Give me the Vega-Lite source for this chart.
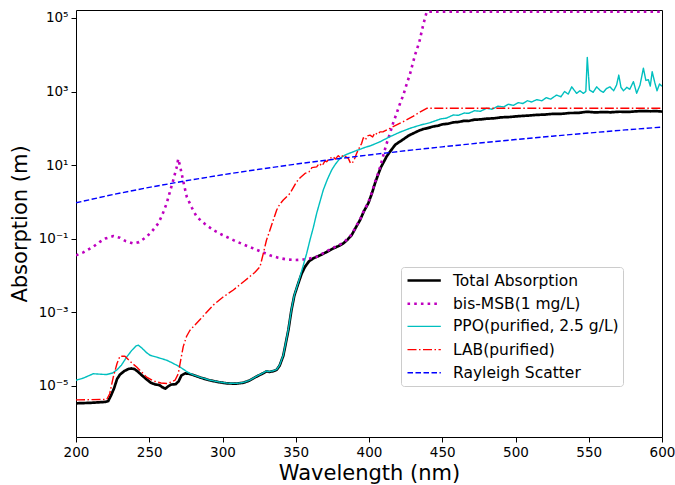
{
  "$schema": "https://vega.github.io/schema/vega-lite/v6.json",
  "width": 586,
  "height": 427,
  "autosize": {"type": "none"},
  "padding": {"left": 76, "top": 10, "right": 13, "bottom": 48},
  "background": "white",
  "config": {
    "font": "DejaVu Sans",
    "view": {"stroke": "#000000", "strokeWidth": 1},
    "axis": {
      "grid": false, "domain": false, "tickColor": "#000000", "tickSize": 5, "tickWidth": 1,
      "labelColor": "#000000", "labelFontSize": 13.5, "labelFont": "DejaVu Sans", "labelFlush": false,
      "titleFontSize": 21, "titleFontWeight": "normal", "titleColor": "#000000", "titleFont": "DejaVu Sans"
    },
    "legend": {
      "orient": "none", "legendX": 325, "legendY": 257, "title": null,
      "labelFontSize": 15.5, "labelFont": "DejaVu Sans", "labelColor": "#000000", "labelLimit": 400,
      "symbolType": "M-0.875,0H3.29", "symbolSize": 256, "labelOffset": 29,
      "padding": 4, "rowPadding": 5.2, "fillColor": "#ffffff", "strokeColor": "#cccccc", "cornerRadius": 3
    }
  },
  "data": {"values": [
    {"series":"Total Absorption","wl":200,"abs":3.3e-6},
    {"series":"Total Absorption","wl":210,"abs":3.4e-6},
    {"series":"Total Absorption","wl":220,"abs":3.6e-6},
    {"series":"Total Absorption","wl":222,"abs":3.8e-6},
    {"series":"Total Absorption","wl":224,"abs":5.5e-6},
    {"series":"Total Absorption","wl":226,"abs":8.5e-6},
    {"series":"Total Absorption","wl":228,"abs":1.5e-5},
    {"series":"Total Absorption","wl":230,"abs":2.0e-5},
    {"series":"Total Absorption","wl":233,"abs":2.5e-5},
    {"series":"Total Absorption","wl":236,"abs":2.85e-5},
    {"series":"Total Absorption","wl":238,"abs":2.93e-5},
    {"series":"Total Absorption","wl":240,"abs":2.8e-5},
    {"series":"Total Absorption","wl":242,"abs":2.45e-5},
    {"series":"Total Absorption","wl":245,"abs":1.9e-5},
    {"series":"Total Absorption","wl":248,"abs":1.5e-5},
    {"series":"Total Absorption","wl":251,"abs":1.2e-5},
    {"series":"Total Absorption","wl":254,"abs":1.08e-5},
    {"series":"Total Absorption","wl":257,"abs":1.03e-5},
    {"series":"Total Absorption","wl":259,"abs":9.0e-6},
    {"series":"Total Absorption","wl":261,"abs":8.3e-6},
    {"series":"Total Absorption","wl":263,"abs":9.6e-6},
    {"series":"Total Absorption","wl":265,"abs":1.07e-5},
    {"series":"Total Absorption","wl":268,"abs":1.09e-5},
    {"series":"Total Absorption","wl":270,"abs":1.3e-5},
    {"series":"Total Absorption","wl":272,"abs":1.9e-5},
    {"series":"Total Absorption","wl":274.5,"abs":2.15e-5},
    {"series":"Total Absorption","wl":277,"abs":2.1e-5},
    {"series":"Total Absorption","wl":280,"abs":1.94e-5},
    {"series":"Total Absorption","wl":285,"abs":1.65e-5},
    {"series":"Total Absorption","wl":291,"abs":1.4e-5},
    {"series":"Total Absorption","wl":297,"abs":1.25e-5},
    {"series":"Total Absorption","wl":303,"abs":1.15e-5},
    {"series":"Total Absorption","wl":309,"abs":1.13e-5},
    {"series":"Total Absorption","wl":314,"abs":1.19e-5},
    {"series":"Total Absorption","wl":318,"abs":1.35e-5},
    {"series":"Total Absorption","wl":323,"abs":1.74e-5},
    {"series":"Total Absorption","wl":328,"abs":2.2e-5},
    {"series":"Total Absorption","wl":330,"abs":2.45e-5},
    {"series":"Total Absorption","wl":332,"abs":2.35e-5},
    {"series":"Total Absorption","wl":335,"abs":2.5e-5},
    {"series":"Total Absorption","wl":337,"abs":2.7e-5},
    {"series":"Total Absorption","wl":339,"abs":3.5e-5},
    {"series":"Total Absorption","wl":341.5,"abs":6.5e-5},
    {"series":"Total Absorption","wl":343,"abs":1.3e-4},
    {"series":"Total Absorption","wl":345,"abs":3.3e-4},
    {"series":"Total Absorption","wl":347,"abs":1.1e-3},
    {"series":"Total Absorption","wl":349,"abs":2.8e-3},
    {"series":"Total Absorption","wl":351.7,"abs":6e-3},
    {"series":"Total Absorption","wl":354,"abs":1.1e-2},
    {"series":"Total Absorption","wl":356.3,"abs":1.7e-2},
    {"series":"Total Absorption","wl":359,"abs":2.4e-2},
    {"series":"Total Absorption","wl":362,"abs":2.9e-2},
    {"series":"Total Absorption","wl":366.6,"abs":3.5e-2},
    {"series":"Total Absorption","wl":371,"abs":4.3e-2},
    {"series":"Total Absorption","wl":375.6,"abs":5.4e-2},
    {"series":"Total Absorption","wl":379,"abs":6.2e-2},
    {"series":"Total Absorption","wl":382.5,"abs":7.4e-2},
    {"series":"Total Absorption","wl":385.5,"abs":9.5e-2},
    {"series":"Total Absorption","wl":388.2,"abs":0.125},
    {"series":"Total Absorption","wl":391,"abs":0.2},
    {"series":"Total Absorption","wl":393.9,"abs":0.32},
    {"series":"Total Absorption","wl":396.5,"abs":0.55},
    {"series":"Total Absorption","wl":399.5,"abs":0.91},
    {"series":"Total Absorption","wl":402,"abs":1.7},
    {"series":"Total Absorption","wl":404.1,"abs":3.2},
    {"series":"Total Absorption","wl":406,"abs":5.2},
    {"series":"Total Absorption","wl":408,"abs":8.5},
    {"series":"Total Absorption","wl":410,"abs":12},
    {"series":"Total Absorption","wl":412,"abs":17},
    {"series":"Total Absorption","wl":414.3,"abs":23},
    {"series":"Total Absorption","wl":418,"abs":36},
    {"series":"Total Absorption","wl":423.4,"abs":50},
    {"series":"Total Absorption","wl":427,"abs":63},
    {"series":"Total Absorption","wl":430,"abs":72},
    {"series":"Total Absorption","wl":434,"abs":86},
    {"series":"Total Absorption","wl":437,"abs":95},
    {"series":"Total Absorption","wl":440,"abs":101},
    {"series":"Total Absorption","wl":444,"abs":112},
    {"series":"Total Absorption","wl":447,"abs":117},
    {"series":"Total Absorption","wl":450,"abs":128},
    {"series":"Total Absorption","wl":454,"abs":133},
    {"series":"Total Absorption","wl":457.5,"abs":145},
    {"series":"Total Absorption","wl":461,"abs":148},
    {"series":"Total Absorption","wl":465,"abs":160},
    {"series":"Total Absorption","wl":468,"abs":158},
    {"series":"Total Absorption","wl":472,"abs":172},
    {"series":"Total Absorption","wl":476,"abs":174},
    {"series":"Total Absorption","wl":480,"abs":182},
    {"series":"Total Absorption","wl":485,"abs":186},
    {"series":"Total Absorption","wl":490,"abs":198},
    {"series":"Total Absorption","wl":496,"abs":203},
    {"series":"Total Absorption","wl":503,"abs":215},
    {"series":"Total Absorption","wl":509,"abs":222},
    {"series":"Total Absorption","wl":515,"abs":232},
    {"series":"Total Absorption","wl":520,"abs":236},
    {"series":"Total Absorption","wl":526,"abs":248},
    {"series":"Total Absorption","wl":531,"abs":246},
    {"series":"Total Absorption","wl":537,"abs":260},
    {"series":"Total Absorption","wl":543,"abs":262},
    {"series":"Total Absorption","wl":549,"abs":282},
    {"series":"Total Absorption","wl":554,"abs":270},
    {"series":"Total Absorption","wl":560,"abs":276},
    {"series":"Total Absorption","wl":565,"abs":272},
    {"series":"Total Absorption","wl":571,"abs":282},
    {"series":"Total Absorption","wl":577,"abs":278},
    {"series":"Total Absorption","wl":582,"abs":288},
    {"series":"Total Absorption","wl":587,"abs":295},
    {"series":"Total Absorption","wl":592,"abs":290},
    {"series":"Total Absorption","wl":596,"abs":293},
    {"series":"Total Absorption","wl":600,"abs":284},

    {"series":"bis-MSB(1 mg/L)","wl":200,"abs":0.035},
    {"series":"bis-MSB(1 mg/L)","wl":205,"abs":0.042},
    {"series":"bis-MSB(1 mg/L)","wl":211.8,"abs":0.06},
    {"series":"bis-MSB(1 mg/L)","wl":216,"abs":0.08},
    {"series":"bis-MSB(1 mg/L)","wl":220,"abs":0.1},
    {"series":"bis-MSB(1 mg/L)","wl":225.5,"abs":0.117},
    {"series":"bis-MSB(1 mg/L)","wl":230,"abs":0.105},
    {"series":"bis-MSB(1 mg/L)","wl":234,"abs":0.085},
    {"series":"bis-MSB(1 mg/L)","wl":239,"abs":0.074},
    {"series":"bis-MSB(1 mg/L)","wl":243,"abs":0.08},
    {"series":"bis-MSB(1 mg/L)","wl":248,"abs":0.11},
    {"series":"bis-MSB(1 mg/L)","wl":252,"abs":0.16},
    {"series":"bis-MSB(1 mg/L)","wl":256.2,"abs":0.26},
    {"series":"bis-MSB(1 mg/L)","wl":259,"abs":0.45},
    {"series":"bis-MSB(1 mg/L)","wl":261.9,"abs":0.91},
    {"series":"bis-MSB(1 mg/L)","wl":264,"abs":1.8},
    {"series":"bis-MSB(1 mg/L)","wl":266.4,"abs":3.9},
    {"series":"bis-MSB(1 mg/L)","wl":268.5,"abs":8},
    {"series":"bis-MSB(1 mg/L)","wl":269.8,"abs":14.6},
    {"series":"bis-MSB(1 mg/L)","wl":271,"abs":9.5},
    {"series":"bis-MSB(1 mg/L)","wl":272.1,"abs":5.9},
    {"series":"bis-MSB(1 mg/L)","wl":274,"abs":2.6},
    {"series":"bis-MSB(1 mg/L)","wl":275.6,"abs":1.37},
    {"series":"bis-MSB(1 mg/L)","wl":279,"abs":0.7},
    {"series":"bis-MSB(1 mg/L)","wl":282.4,"abs":0.39},
    {"series":"bis-MSB(1 mg/L)","wl":288,"abs":0.25},
    {"series":"bis-MSB(1 mg/L)","wl":293.7,"abs":0.17},
    {"series":"bis-MSB(1 mg/L)","wl":300,"abs":0.125},
    {"series":"bis-MSB(1 mg/L)","wl":307.4,"abs":0.091},
    {"series":"bis-MSB(1 mg/L)","wl":314,"abs":0.07},
    {"series":"bis-MSB(1 mg/L)","wl":321,"abs":0.054},
    {"series":"bis-MSB(1 mg/L)","wl":327,"abs":0.043},
    {"series":"bis-MSB(1 mg/L)","wl":332.4,"abs":0.035},
    {"series":"bis-MSB(1 mg/L)","wl":338,"abs":0.03},
    {"series":"bis-MSB(1 mg/L)","wl":343.8,"abs":0.027},
    {"series":"bis-MSB(1 mg/L)","wl":350,"abs":0.026},
    {"series":"bis-MSB(1 mg/L)","wl":355.2,"abs":0.027},
    {"series":"bis-MSB(1 mg/L)","wl":360,"abs":0.029},
    {"series":"bis-MSB(1 mg/L)","wl":364.3,"abs":0.032},
    {"series":"bis-MSB(1 mg/L)","wl":366.6,"abs":0.036},
    {"series":"bis-MSB(1 mg/L)","wl":371,"abs":0.045},
    {"series":"bis-MSB(1 mg/L)","wl":375.6,"abs":0.056},
    {"series":"bis-MSB(1 mg/L)","wl":379,"abs":0.065},
    {"series":"bis-MSB(1 mg/L)","wl":382.5,"abs":0.077},
    {"series":"bis-MSB(1 mg/L)","wl":385.5,"abs":0.1},
    {"series":"bis-MSB(1 mg/L)","wl":388.2,"abs":0.13},
    {"series":"bis-MSB(1 mg/L)","wl":391,"abs":0.21},
    {"series":"bis-MSB(1 mg/L)","wl":393.9,"abs":0.33},
    {"series":"bis-MSB(1 mg/L)","wl":396.5,"abs":0.57},
    {"series":"bis-MSB(1 mg/L)","wl":399.5,"abs":0.95},
    {"series":"bis-MSB(1 mg/L)","wl":402,"abs":1.8},
    {"series":"bis-MSB(1 mg/L)","wl":404.1,"abs":3.4},
    {"series":"bis-MSB(1 mg/L)","wl":406,"abs":5.6},
    {"series":"bis-MSB(1 mg/L)","wl":408,"abs":10},
    {"series":"bis-MSB(1 mg/L)","wl":410,"abs":20},
    {"series":"bis-MSB(1 mg/L)","wl":412,"abs":38},
    {"series":"bis-MSB(1 mg/L)","wl":414.3,"abs":72},
    {"series":"bis-MSB(1 mg/L)","wl":416.5,"abs":140},
    {"series":"bis-MSB(1 mg/L)","wl":418.9,"abs":257},
    {"series":"bis-MSB(1 mg/L)","wl":421,"abs":450},
    {"series":"bis-MSB(1 mg/L)","wl":423.4,"abs":795},
    {"series":"bis-MSB(1 mg/L)","wl":425.5,"abs":1500},
    {"series":"bis-MSB(1 mg/L)","wl":428,"abs":3000},
    {"series":"bis-MSB(1 mg/L)","wl":431.4,"abs":9800},
    {"series":"bis-MSB(1 mg/L)","wl":434.3,"abs":22000},
    {"series":"bis-MSB(1 mg/L)","wl":437,"abs":65000},
    {"series":"bis-MSB(1 mg/L)","wl":439.4,"abs":148000},
    {"series":"bis-MSB(1 mg/L)","wl":600,"abs":148000},

    {"series":"PPO(purified, 2.5 g/L)","wl":200,"abs":1.4e-5},
    {"series":"PPO(purified, 2.5 g/L)","wl":205,"abs":1.6e-5},
    {"series":"PPO(purified, 2.5 g/L)","wl":211.8,"abs":2.1e-5},
    {"series":"PPO(purified, 2.5 g/L)","wl":216,"abs":2.05e-5},
    {"series":"PPO(purified, 2.5 g/L)","wl":221,"abs":2.0e-5},
    {"series":"PPO(purified, 2.5 g/L)","wl":225,"abs":2.2e-5},
    {"series":"PPO(purified, 2.5 g/L)","wl":228,"abs":2.7e-5},
    {"series":"PPO(purified, 2.5 g/L)","wl":231,"abs":3.6e-5},
    {"series":"PPO(purified, 2.5 g/L)","wl":234.6,"abs":6.0e-5},
    {"series":"PPO(purified, 2.5 g/L)","wl":238,"abs":9e-5},
    {"series":"PPO(purified, 2.5 g/L)","wl":241,"abs":1.2e-4},
    {"series":"PPO(purified, 2.5 g/L)","wl":242.5,"abs":1.26e-4},
    {"series":"PPO(purified, 2.5 g/L)","wl":245,"abs":1.05e-4},
    {"series":"PPO(purified, 2.5 g/L)","wl":248,"abs":8e-5},
    {"series":"PPO(purified, 2.5 g/L)","wl":250.5,"abs":6.7e-5},
    {"series":"PPO(purified, 2.5 g/L)","wl":256,"abs":5.8e-5},
    {"series":"PPO(purified, 2.5 g/L)","wl":261.9,"abs":4.9e-5},
    {"series":"PPO(purified, 2.5 g/L)","wl":266,"abs":4.1e-5},
    {"series":"PPO(purified, 2.5 g/L)","wl":271,"abs":3.2e-5},
    {"series":"PPO(purified, 2.5 g/L)","wl":275,"abs":2.5e-5},
    {"series":"PPO(purified, 2.5 g/L)","wl":277.8,"abs":2.15e-5},
    {"series":"PPO(purified, 2.5 g/L)","wl":280,"abs":1.96e-5},
    {"series":"PPO(purified, 2.5 g/L)","wl":285,"abs":1.67e-5},
    {"series":"PPO(purified, 2.5 g/L)","wl":291,"abs":1.42e-5},
    {"series":"PPO(purified, 2.5 g/L)","wl":297,"abs":1.27e-5},
    {"series":"PPO(purified, 2.5 g/L)","wl":303,"abs":1.17e-5},
    {"series":"PPO(purified, 2.5 g/L)","wl":309,"abs":1.15e-5},
    {"series":"PPO(purified, 2.5 g/L)","wl":314,"abs":1.21e-5},
    {"series":"PPO(purified, 2.5 g/L)","wl":318,"abs":1.37e-5},
    {"series":"PPO(purified, 2.5 g/L)","wl":323,"abs":1.77e-5},
    {"series":"PPO(purified, 2.5 g/L)","wl":328,"abs":2.25e-5},
    {"series":"PPO(purified, 2.5 g/L)","wl":330,"abs":2.5e-5},
    {"series":"PPO(purified, 2.5 g/L)","wl":332,"abs":2.4e-5},
    {"series":"PPO(purified, 2.5 g/L)","wl":335,"abs":2.55e-5},
    {"series":"PPO(purified, 2.5 g/L)","wl":337,"abs":2.75e-5},
    {"series":"PPO(purified, 2.5 g/L)","wl":339,"abs":3.6e-5},
    {"series":"PPO(purified, 2.5 g/L)","wl":341.5,"abs":6.8e-5},
    {"series":"PPO(purified, 2.5 g/L)","wl":343,"abs":1.35e-4},
    {"series":"PPO(purified, 2.5 g/L)","wl":345,"abs":3.5e-4},
    {"series":"PPO(purified, 2.5 g/L)","wl":347,"abs":1.15e-3},
    {"series":"PPO(purified, 2.5 g/L)","wl":349,"abs":2.9e-3},
    {"series":"PPO(purified, 2.5 g/L)","wl":351.7,"abs":6.3e-3},
    {"series":"PPO(purified, 2.5 g/L)","wl":354,"abs":1.3e-2},
    {"series":"PPO(purified, 2.5 g/L)","wl":357.5,"abs":0.04},
    {"series":"PPO(purified, 2.5 g/L)","wl":359.7,"abs":0.091},
    {"series":"PPO(purified, 2.5 g/L)","wl":362,"abs":0.2},
    {"series":"PPO(purified, 2.5 g/L)","wl":364.3,"abs":0.49},
    {"series":"PPO(purified, 2.5 g/L)","wl":366.5,"abs":1.0},
    {"series":"PPO(purified, 2.5 g/L)","wl":368.8,"abs":2.1},
    {"series":"PPO(purified, 2.5 g/L)","wl":371.5,"abs":4},
    {"series":"PPO(purified, 2.5 g/L)","wl":374.5,"abs":7.3},
    {"series":"PPO(purified, 2.5 g/L)","wl":377,"abs":10.5},
    {"series":"PPO(purified, 2.5 g/L)","wl":380.2,"abs":15.2},
    {"series":"PPO(purified, 2.5 g/L)","wl":384,"abs":19},
    {"series":"PPO(purified, 2.5 g/L)","wl":389.3,"abs":23},
    {"series":"PPO(purified, 2.5 g/L)","wl":394,"abs":27},
    {"series":"PPO(purified, 2.5 g/L)","wl":398.4,"abs":31.3},
    {"series":"PPO(purified, 2.5 g/L)","wl":400.7,"abs":33},
    {"series":"PPO(purified, 2.5 g/L)","wl":407.5,"abs":43},
    {"series":"PPO(purified, 2.5 g/L)","wl":414.3,"abs":59},
    {"series":"PPO(purified, 2.5 g/L)","wl":421,"abs":78},
    {"series":"PPO(purified, 2.5 g/L)","wl":428,"abs":100},
    {"series":"PPO(purified, 2.5 g/L)","wl":435,"abs":122},
    {"series":"PPO(purified, 2.5 g/L)","wl":441.6,"abs":142},
    {"series":"PPO(purified, 2.5 g/L)","wl":449,"abs":180},
    {"series":"PPO(purified, 2.5 g/L)","wl":453,"abs":190},
    {"series":"PPO(purified, 2.5 g/L)","wl":457.5,"abs":230},
    {"series":"PPO(purified, 2.5 g/L)","wl":461,"abs":225},
    {"series":"PPO(purified, 2.5 g/L)","wl":465,"abs":260},
    {"series":"PPO(purified, 2.5 g/L)","wl":468,"abs":255},
    {"series":"PPO(purified, 2.5 g/L)","wl":472,"abs":300},
    {"series":"PPO(purified, 2.5 g/L)","wl":476,"abs":290},
    {"series":"PPO(purified, 2.5 g/L)","wl":480.3,"abs":350},
    {"series":"PPO(purified, 2.5 g/L)","wl":484,"abs":330},
    {"series":"PPO(purified, 2.5 g/L)","wl":488,"abs":400},
    {"series":"PPO(purified, 2.5 g/L)","wl":492,"abs":380},
    {"series":"PPO(purified, 2.5 g/L)","wl":495,"abs":450},
    {"series":"PPO(purified, 2.5 g/L)","wl":498.5,"abs":420},
    {"series":"PPO(purified, 2.5 g/L)","wl":502,"abs":500},
    {"series":"PPO(purified, 2.5 g/L)","wl":505,"abs":470},
    {"series":"PPO(purified, 2.5 g/L)","wl":508,"abs":560},
    {"series":"PPO(purified, 2.5 g/L)","wl":511,"abs":520},
    {"series":"PPO(purified, 2.5 g/L)","wl":514.5,"abs":600},
    {"series":"PPO(purified, 2.5 g/L)","wl":518,"abs":560},
    {"series":"PPO(purified, 2.5 g/L)","wl":521,"abs":680},
    {"series":"PPO(purified, 2.5 g/L)","wl":524,"abs":620},
    {"series":"PPO(purified, 2.5 g/L)","wl":528,"abs":800},
    {"series":"PPO(purified, 2.5 g/L)","wl":531,"abs":720},
    {"series":"PPO(purified, 2.5 g/L)","wl":533.5,"abs":1000},
    {"series":"PPO(purified, 2.5 g/L)","wl":536,"abs":850},
    {"series":"PPO(purified, 2.5 g/L)","wl":538.4,"abs":1340},
    {"series":"PPO(purified, 2.5 g/L)","wl":541.7,"abs":890},
    {"series":"PPO(purified, 2.5 g/L)","wl":544,"abs":1050},
    {"series":"PPO(purified, 2.5 g/L)","wl":546.3,"abs":890},
    {"series":"PPO(purified, 2.5 g/L)","wl":548,"abs":1000},
    {"series":"PPO(purified, 2.5 g/L)","wl":549,"abs":8500},
    {"series":"PPO(purified, 2.5 g/L)","wl":550.5,"abs":1100},
    {"series":"PPO(purified, 2.5 g/L)","wl":553,"abs":950},
    {"series":"PPO(purified, 2.5 g/L)","wl":555.4,"abs":1340},
    {"series":"PPO(purified, 2.5 g/L)","wl":558,"abs":1050},
    {"series":"PPO(purified, 2.5 g/L)","wl":560,"abs":950},
    {"series":"PPO(purified, 2.5 g/L)","wl":562,"abs":1200},
    {"series":"PPO(purified, 2.5 g/L)","wl":564.5,"abs":1340},
    {"series":"PPO(purified, 2.5 g/L)","wl":567,"abs":1050},
    {"series":"PPO(purified, 2.5 g/L)","wl":569,"abs":1500},
    {"series":"PPO(purified, 2.5 g/L)","wl":570.5,"abs":2800},
    {"series":"PPO(purified, 2.5 g/L)","wl":572,"abs":1300},
    {"series":"PPO(purified, 2.5 g/L)","wl":573.7,"abs":1050},
    {"series":"PPO(purified, 2.5 g/L)","wl":576,"abs":1300},
    {"series":"PPO(purified, 2.5 g/L)","wl":578,"abs":1150},
    {"series":"PPO(purified, 2.5 g/L)","wl":580.5,"abs":1860},
    {"series":"PPO(purified, 2.5 g/L)","wl":582.7,"abs":900},
    {"series":"PPO(purified, 2.5 g/L)","wl":585,"abs":1500},
    {"series":"PPO(purified, 2.5 g/L)","wl":587.3,"abs":4300},
    {"series":"PPO(purified, 2.5 g/L)","wl":589,"abs":2000},
    {"series":"PPO(purified, 2.5 g/L)","wl":590.7,"abs":2100},
    {"series":"PPO(purified, 2.5 g/L)","wl":592,"abs":1400},
    {"series":"PPO(purified, 2.5 g/L)","wl":593.3,"abs":3470},
    {"series":"PPO(purified, 2.5 g/L)","wl":595,"abs":1800},
    {"series":"PPO(purified, 2.5 g/L)","wl":596.6,"abs":1050},
    {"series":"PPO(purified, 2.5 g/L)","wl":598.3,"abs":1600},
    {"series":"PPO(purified, 2.5 g/L)","wl":600,"abs":1400},

    {"series":"LAB(purified)","wl":200,"abs":4.1e-6},
    {"series":"LAB(purified)","wl":210,"abs":4.15e-6},
    {"series":"LAB(purified)","wl":221,"abs":4.2e-6},
    {"series":"LAB(purified)","wl":223,"abs":6e-6},
    {"series":"LAB(purified)","wl":225.5,"abs":1.74e-5},
    {"series":"LAB(purified)","wl":228,"abs":4e-5},
    {"series":"LAB(purified)","wl":230,"abs":6.3e-5},
    {"series":"LAB(purified)","wl":233.4,"abs":6.3e-5},
    {"series":"LAB(purified)","wl":236,"abs":5e-5},
    {"series":"LAB(purified)","wl":238.5,"abs":4e-5},
    {"series":"LAB(purified)","wl":241.4,"abs":3.2e-5},
    {"series":"LAB(purified)","wl":245,"abs":2.3e-5},
    {"series":"LAB(purified)","wl":248.2,"abs":1.7e-5},
    {"series":"LAB(purified)","wl":252,"abs":1.4e-5},
    {"series":"LAB(purified)","wl":255,"abs":1.26e-5},
    {"series":"LAB(purified)","wl":258,"abs":1.18e-5},
    {"series":"LAB(purified)","wl":261.9,"abs":1.14e-5},
    {"series":"LAB(purified)","wl":265,"abs":1.25e-5},
    {"series":"LAB(purified)","wl":267.6,"abs":1.4e-5},
    {"series":"LAB(purified)","wl":269.8,"abs":2.1e-5},
    {"series":"LAB(purified)","wl":271.5,"abs":5e-5},
    {"series":"LAB(purified)","wl":273.2,"abs":1.15e-4},
    {"series":"LAB(purified)","wl":275.5,"abs":2.2e-4},
    {"series":"LAB(purified)","wl":277.8,"abs":3.2e-4},
    {"series":"LAB(purified)","wl":285,"abs":6.5e-4},
    {"series":"LAB(purified)","wl":293.7,"abs":1.55e-3},
    {"series":"LAB(purified)","wl":300,"abs":2.5e-3},
    {"series":"LAB(purified)","wl":307.4,"abs":4e-3},
    {"series":"LAB(purified)","wl":315,"abs":7e-3},
    {"series":"LAB(purified)","wl":322,"abs":1.2e-2},
    {"series":"LAB(purified)","wl":325.6,"abs":1.7e-2},
    {"series":"LAB(purified)","wl":327.9,"abs":4e-2},
    {"series":"LAB(purified)","wl":330,"abs":0.09},
    {"series":"LAB(purified)","wl":332.4,"abs":0.17},
    {"series":"LAB(purified)","wl":335,"abs":0.35},
    {"series":"LAB(purified)","wl":337,"abs":0.6},
    {"series":"LAB(purified)","wl":339,"abs":0.85},
    {"series":"LAB(purified)","wl":341.5,"abs":1.12},
    {"series":"LAB(purified)","wl":344,"abs":1.4},
    {"series":"LAB(purified)","wl":346.1,"abs":1.7},
    {"series":"LAB(purified)","wl":348.5,"abs":2.5},
    {"series":"LAB(purified)","wl":350.6,"abs":3.5},
    {"series":"LAB(purified)","wl":353,"abs":4.5},
    {"series":"LAB(purified)","wl":356.3,"abs":5.9},
    {"series":"LAB(purified)","wl":359,"abs":6.5},
    {"series":"LAB(purified)","wl":361,"abs":8.5},
    {"series":"LAB(purified)","wl":364.3,"abs":8.9},
    {"series":"LAB(purified)","wl":366,"abs":11},
    {"series":"LAB(purified)","wl":368,"abs":9.5},
    {"series":"LAB(purified)","wl":370,"abs":13},
    {"series":"LAB(purified)","wl":371.1,"abs":12.3},
    {"series":"LAB(purified)","wl":373,"abs":15},
    {"series":"LAB(purified)","wl":375.6,"abs":16.8},
    {"series":"LAB(purified)","wl":377,"abs":14.5},
    {"series":"LAB(purified)","wl":379,"abs":18},
    {"series":"LAB(purified)","wl":380.5,"abs":16},
    {"series":"LAB(purified)","wl":382.5,"abs":18.6},
    {"series":"LAB(purified)","wl":384,"abs":17},
    {"series":"LAB(purified)","wl":385.9,"abs":15.2},
    {"series":"LAB(purified)","wl":387.5,"abs":11},
    {"series":"LAB(purified)","wl":389.3,"abs":12.3},
    {"series":"LAB(purified)","wl":390.5,"abs":16},
    {"series":"LAB(purified)","wl":391.6,"abs":21},
    {"series":"LAB(purified)","wl":393.5,"abs":30},
    {"series":"LAB(purified)","wl":395,"abs":39},
    {"series":"LAB(purified)","wl":396.1,"abs":55},
    {"series":"LAB(purified)","wl":397.5,"abs":48},
    {"series":"LAB(purified)","wl":399,"abs":62},
    {"series":"LAB(purified)","wl":400.7,"abs":65},
    {"series":"LAB(purified)","wl":402.5,"abs":58},
    {"series":"LAB(purified)","wl":404,"abs":75},
    {"series":"LAB(purified)","wl":406,"abs":68},
    {"series":"LAB(purified)","wl":407.5,"abs":80},
    {"series":"LAB(purified)","wl":409.8,"abs":80.5},
    {"series":"LAB(purified)","wl":414.3,"abs":100},
    {"series":"LAB(purified)","wl":423.4,"abs":151},
    {"series":"LAB(purified)","wl":430,"abs":210},
    {"series":"LAB(purified)","wl":435,"abs":280},
    {"series":"LAB(purified)","wl":439.4,"abs":350},
    {"series":"LAB(purified)","wl":600,"abs":350},

    {"series":"Rayleigh Scatter","wl":200,"abs":0.94},
    {"series":"Rayleigh Scatter","wl":225,"abs":1.57},
    {"series":"Rayleigh Scatter","wl":250,"abs":2.47},
    {"series":"Rayleigh Scatter","wl":275,"abs":3.73},
    {"series":"Rayleigh Scatter","wl":300,"abs":5.43},
    {"series":"Rayleigh Scatter","wl":325,"abs":7.67},
    {"series":"Rayleigh Scatter","wl":350,"abs":10.6},
    {"series":"Rayleigh Scatter","wl":375,"abs":14.2},
    {"series":"Rayleigh Scatter","wl":400,"abs":18.8},
    {"series":"Rayleigh Scatter","wl":425,"abs":24.5},
    {"series":"Rayleigh Scatter","wl":450,"abs":31.3},
    {"series":"Rayleigh Scatter","wl":475,"abs":39.5},
    {"series":"Rayleigh Scatter","wl":500,"abs":49.3},
    {"series":"Rayleigh Scatter","wl":525,"abs":60.9},
    {"series":"Rayleigh Scatter","wl":550,"abs":74.4},
    {"series":"Rayleigh Scatter","wl":575,"abs":90.2},
    {"series":"Rayleigh Scatter","wl":600,"abs":108}
  ]},
  "encoding": {
    "x": {
      "field": "wl", "type": "quantitative",
      "scale": {"domain": [200, 600], "nice": false, "zero": false},
      "axis": {"values": [200, 250, 300, 350, 400, 450, 500, 550, 600], "title": "Wavelength (nm)", "labelPadding": 3, "titlePadding": 4}
    },
    "y": {
      "field": "abs", "type": "quantitative",
      "scale": {"type": "log", "domain": [4e-7, 1.65e5], "nice": false},
      "axis": {
        "values": [1e-5, 0.001, 0.1, 10, 1000, 100000],
        "labelExpr": "datum.value < 1e-4 ? '10⁻⁵' : datum.value < 1e-2 ? '10⁻³' : datum.value < 1 ? '10⁻¹' : datum.value < 100 ? '10¹' : datum.value < 1e4 ? '10³' : '10⁵'",
        "title": "Absorption (m)", "labelPadding": 3, "titlePadding": 8
      }
    },
    "color": {
      "field": "series", "type": "nominal",
      "scale": {
        "domain": ["Total Absorption", "bis-MSB(1 mg/L)", "PPO(purified, 2.5 g/L)", "LAB(purified)", "Rayleigh Scatter"],
        "range": ["#000000", "#bf00bf", "#00bfbf", "#ff0000", "#0000ff"]
      },
      "legend": {"title": null}
    },
    "strokeDash": {
      "field": "series", "type": "nominal",
      "scale": {
        "domain": ["Total Absorption", "bis-MSB(1 mg/L)", "PPO(purified, 2.5 g/L)", "LAB(purified)", "Rayleigh Scatter"],
        "range": [[1, 0], [2.6, 4.1], [1, 0], [9, 2.5, 1.5, 2.5], [5.5, 2.5]]
      },
      "legend": {"title": null}
    },
    "strokeWidth": {
      "field": "series", "type": "nominal",
      "scale": {
        "type": "ordinal",
        "domain": ["Total Absorption", "bis-MSB(1 mg/L)", "PPO(purified, 2.5 g/L)", "LAB(purified)", "Rayleigh Scatter"],
        "range": [2.7, 2.6, 1.4, 1.4, 1.4]
      },
      "legend": {"title": null}
    }
  },
  "layer": [
    {"transform": [{"filter": "datum.series === 'Total Absorption'"}], "mark": {"type": "line", "strokeCap": "butt", "strokeJoin": "round", "clip": true}},
    {"transform": [{"filter": "datum.series === 'bis-MSB(1 mg/L)'"}], "mark": {"type": "line", "strokeCap": "butt", "strokeJoin": "round", "clip": true}},
    {"transform": [{"filter": "datum.series === 'PPO(purified, 2.5 g/L)'"}], "mark": {"type": "line", "strokeCap": "butt", "strokeJoin": "round", "clip": true}},
    {"transform": [{"filter": "datum.series === 'LAB(purified)'"}], "mark": {"type": "line", "strokeCap": "butt", "strokeJoin": "round", "clip": true}},
    {"transform": [{"filter": "datum.series === 'Rayleigh Scatter'"}], "mark": {"type": "line", "strokeCap": "butt", "strokeJoin": "round", "clip": true}}
  ]
}
